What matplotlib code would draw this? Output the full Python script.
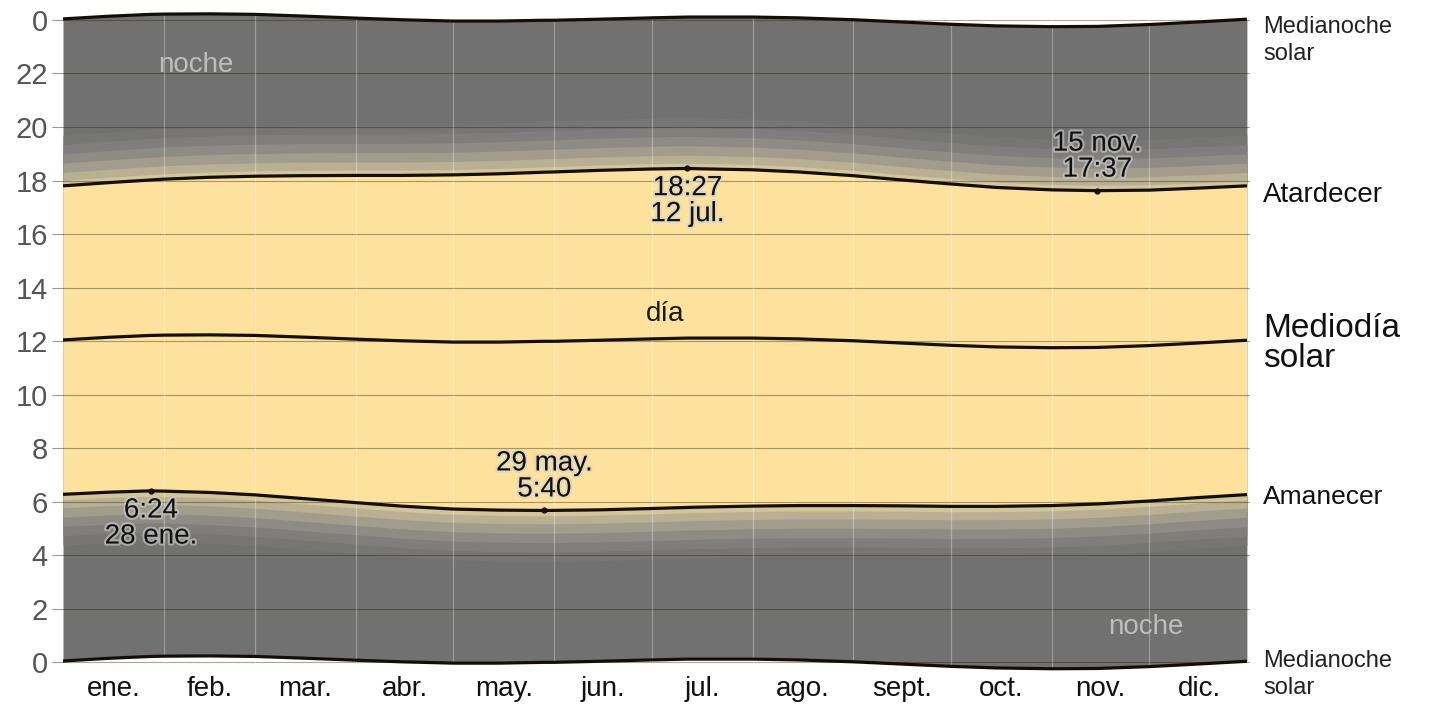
import numpy as np
import matplotlib
matplotlib.use("Agg")
import matplotlib.pyplot as plt
import matplotlib.patheffects as pe

plt.rcParams["font.family"] = ["Liberation Sans", "DejaVu Sans"]

# day of year (0 = 1 ene.)
days = np.array([0, 14, 27, 31, 45, 59, 73, 90, 104, 120, 134, 148, 151, 165,
                 181, 192, 195, 212, 226, 243, 257, 273, 287, 304, 318, 334, 348, 364])
# hours (decimal)
sunrise = np.array([6.27, 6.35, 6.40, 6.39, 6.34, 6.25, 6.12, 5.96, 5.83, 5.72, 5.68, 5.667, 5.67, 5.69,
                    5.74, 5.78, 5.79, 5.83, 5.85, 5.85, 5.84, 5.82, 5.82, 5.85, 5.91, 6.02, 6.14, 6.26])
sunset = np.array([17.80, 17.92, 18.02, 18.05, 18.12, 18.16, 18.18, 18.19, 18.19, 18.21, 18.25, 18.31, 18.32, 18.38,
                   18.43, 18.45, 18.44, 18.40, 18.32, 18.18, 18.03, 17.87, 17.74, 17.65, 17.62, 17.64, 17.71, 17.80])
solar_noon = np.array([12.04, 12.14, 12.21, 12.22, 12.23, 12.21, 12.15, 12.07, 12.01, 11.96, 11.96, 11.99, 11.99, 12.03,
                       12.08, 12.11, 12.11, 12.11, 12.08, 12.01, 11.93, 11.84, 11.78, 11.75, 11.76, 11.83, 11.92, 12.03])
solar_midnight = np.array([0.04, 0.14, 0.21, 0.22, 0.23, 0.21, 0.15, 0.07, 0.01, -0.04, -0.04, -0.01, -0.01, 0.03,
                           0.08, 0.11, 0.11, 0.11, 0.08, 0.01, -0.07, -0.16, -0.22, -0.25, -0.24, -0.17, -0.08, 0.03])

# twilight depth before sunrise / after sunset (hours)
twilight_depth = [1.9, 1.55, 1.2, 0.85, 0.5, 0.2]
twilight_colors = ["#767675", "#7f7e7b", "#8d8b84", "#a19c8c", "#b9b093", "#d2c599"]

month_starts = [0, 31, 59, 90, 120, 151, 181, 212, 243, 273, 304, 334, 365]
month_labels = ["ene.", "feb.", "mar.", "abr.", "may.", "jun.", "jul.", "ago.",
                "sept.", "oct.", "nov.", "dic."]

# annotated extremes: (day, hour, text, below)
extremes = [
    (27, 6.40, "6:24\n28 ene.", True),
    (148, 5.667, "29 may.\n5:40", False),
    (192, 18.45, "18:27\n12 jul.", True),
    (318, 17.62, "15 nov.\n17:37", False),
]

NIGHT = "#717171"
DAY = "#fde29e"
LINE = "#140e06"

fig = plt.figure(figsize=(14.32, 7.13), dpi=100)
ax = fig.add_axes([0.044, 0.0583, 0.829, 0.9268])

top_mid = solar_midnight + 24
ax.fill_between(days, solar_midnight, top_mid, color=NIGHT, lw=0, zorder=1)
for d, c in zip(twilight_depth, twilight_colors):
    ax.fill_between(days, sunrise - d, sunrise, color=c, lw=0, zorder=1)
    ax.fill_between(days, sunset, sunset + d, color=c, lw=0, zorder=1)
ax.fill_between(days, sunrise, sunset, color=DAY, lw=0, zorder=1)

# grid
for h in range(0, 25, 2):
    ax.axhline(h, color="#2a1e08", alpha=0.4, lw=0.8, zorder=2)
for m in month_starts[1:-1]:
    ax.axvline(m, color="#ffffff", alpha=0.3, lw=0.9, zorder=2)

for series in (solar_midnight, top_mid, sunrise, sunset, solar_noon):
    ax.plot(days, series, color=LINE, lw=2.3, zorder=4, solid_capstyle="butt")

halo = [pe.withStroke(linewidth=3, foreground="#d0d0d0", alpha=0.6)]
for d, h, txt, below in extremes:
    ax.plot(d, h, "o", color=LINE, ms=3.5, zorder=5)
    if below:
        ax.text(d, h - 0.25, txt, ha="center", va="top", fontsize=20,
                linespacing=1.0, color="#111111", zorder=6, path_effects=halo)
    else:
        ax.text(d, h + 0.3, txt, ha="center", va="bottom", fontsize=20,
                linespacing=1.0, color="#111111", zorder=6, path_effects=halo)

ax.text(185, 13.0, "día", ha="center", va="center", fontsize=20, color="#1a1a1a", zorder=6)
ax.text(41, 22.3, "noche", ha="center", va="center", fontsize=20, color="#bdbdbd", zorder=6)
ax.text(333, 1.3, "noche", ha="center", va="center", fontsize=20, color="#bdbdbd", zorder=6)

# labels at right
ax.text(369, 23.25, "Medianoche\nsolar", ha="left", va="center", fontsize=17,
        linespacing=1.3, color="#222222", clip_on=False)
ax.text(369, 17.45, "Atardecer", ha="left", va="center", fontsize=20, color="#111111", clip_on=False)
ax.text(369, 11.9, "Mediodía\nsolar", ha="left", va="center", fontsize=24,
        linespacing=0.95, color="#111111", clip_on=False)
ax.text(369, 6.17, "Amanecer", ha="left", va="center", fontsize=19, color="#111111", clip_on=False)
ax.text(369, -0.45, "Medianoche\nsolar", ha="left", va="center", fontsize=17,
        linespacing=1.3, color="#222222", clip_on=False)

ax.set_xlim(0, 365)
ax.set_ylim(-0.35, 24.35)
yt = list(range(0, 25, 2))
ax.set_yticks(yt)
ax.set_yticklabels([str(v % 24) for v in yt], color="#555555", fontsize=21)
ax.tick_params(axis="y", length=8, color="#999999", width=0.8, pad=3)
mids = [(a + b) / 2 for a, b in zip(month_starts[:-1], month_starts[1:])]
ax.set_xticks(mids)
ax.set_xticklabels(month_labels, fontsize=20, color="#111111")
ax.tick_params(axis="x", length=0, pad=3)
for s in ax.spines.values():
    s.set_visible(False)

fig.savefig("out.png", dpi=100)
